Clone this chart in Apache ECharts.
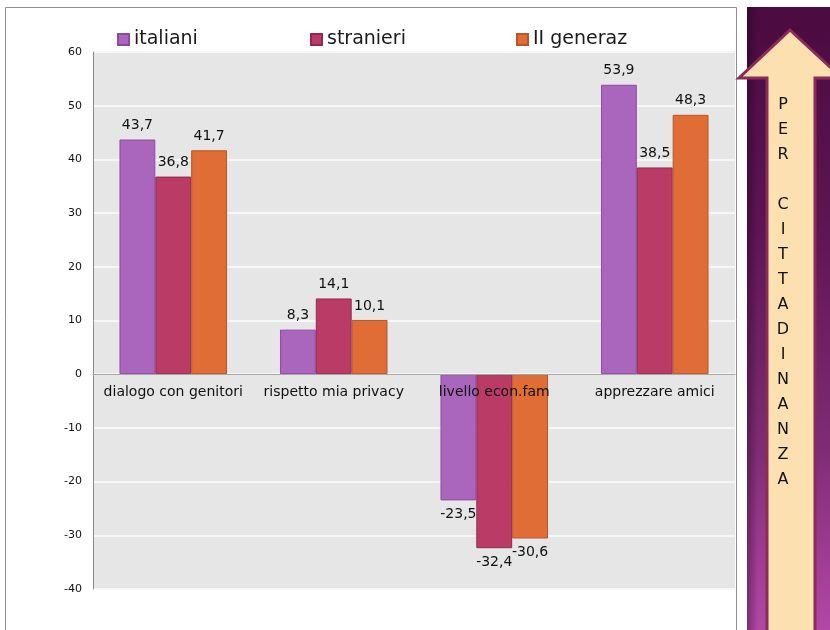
<!DOCTYPE html>
<html>
<head>
<meta charset="utf-8">
<script src="https://cdn.jsdelivr.net/npm/echarts@6/dist/echarts.min.js"></script>
<style>
  html, body { margin: 0; padding: 0; background: #ffffff; }
  #chart { width: 830px; height: 630px; }
</style>
</head>
<body>
<div id="chart"></div>
<script>
// Categories and values (percent differences) per group
const categories = ['dialogo con genitori', 'rispetto mia privacy', 'livello econ.fam', 'apprezzare amici'];
const seriesNames = ['italiani', 'stranieri', 'II generaz'];
const italiani = [43.7, 8.3, -23.5, 53.9];
const stranieri = [36.8, 14.1, -32.4, 38.5];
const secondaGen = [41.7, 10.1, -30.6, 48.3];
const yTicks = { min: -40, max: 60, step: 10 };
const sideText = 'PER CITTADINANZA';

const fills = ['#aa65bd', '#ba3c66', '#e06c36'];
const borders = ['#8d4aa0', '#8f2a4e', '#b9552a'];
const FONT = 'DejaVu Sans';

const GRID = { left: 93, right: 95, top: 52, bottom: 41 };
const plotHeight = 630 - GRID.top - GRID.bottom;
// lift the category axis (line + labels) from the bottom edge up to the value 0
const zeroLift = plotHeight * (0 - yTicks.min) / (yTicks.max - yTicks.min);

function fmt(v) { return String(v).replace('.', ','); }

function makeSeries(name, values, idx) {
  return {
    name: name,
    type: 'bar',
    barGap: '0%',
    barCategoryGap: '33%',
    itemStyle: { color: fills[idx], borderColor: borders[idx], borderWidth: 1 },
    label: {
      show: true,
      fontFamily: FONT,
      fontSize: 14,
      color: '#111',
      distance: 7,
      formatter: p => fmt(p.value)
    },
    data: values.map(v => ({
      value: v,
      label: { position: v < 0 ? 'bottom' : 'top' }
    }))
  };
}

const chart = echarts.init(document.getElementById('chart'), null, { renderer: 'canvas' });

const legendLefts = [112, 305, 511];
const legends = seriesNames.map((n, i) => ({
  data: [n],
  left: legendLefts[i],
  top: 25,
  itemWidth: 11,
  itemHeight: 11,
  itemGap: 6,
  icon: 'rect',
  selectedMode: false,
  textStyle: { fontFamily: FONT, fontSize: 19, color: '#1a1a1a' }
}));

// vertical lettering inside the arrow
const letters = sideText.split('').map(c => c === ' ' ? '' : c).join('\n');

chart.setOption({
  backgroundColor: '#ffffff',
  animation: false,
  legend: legends,
  grid: Object.assign({ show: true, backgroundColor: '#e6e6e6', borderWidth: 0 }, GRID),
  xAxis: {
    type: 'category',
    data: categories,
    z: 10,
    offset: -zeroLift,
    axisLine: { onZero: false, lineStyle: { color: '#a6a6a6', width: 1 } },
    axisTick: { show: false },
    axisLabel: { interval: 0, fontFamily: FONT, fontSize: 14, color: '#111', margin: 11 }
  },
  yAxis: {
    type: 'value',
    min: yTicks.min,
    max: yTicks.max,
    interval: yTicks.step,
    axisLine: { show: true, lineStyle: { color: '#8c8c8c', width: 1 } },
    axisTick: { show: false },
    splitLine: { lineStyle: { color: '#f7f7f7', width: 2 } },
    axisLabel: { fontFamily: FONT, fontSize: 11, color: '#111', margin: 11 }
  },
  series: [
    makeSeries(seriesNames[0], italiani, 0),
    makeSeries(seriesNames[1], stranieri, 1),
    makeSeries(seriesNames[2], secondaGen, 2)
  ],
  graphic: [
    // outer frame of the chart slide
    {
      type: 'rect', z: -10, silent: true,
      shape: { x: 5.5, y: 7.5, width: 731, height: 640 },
      style: { fill: 'none', stroke: '#8f8f8f', lineWidth: 1 }
    },
    // purple side panel
    {
      type: 'rect', z: 0, silent: true,
      shape: { x: 747, y: 7, width: 90, height: 630 },
      style: {
        fill: new echarts.graphic.LinearGradient(0, 0, 0, 1, [
          { offset: 0, color: '#4a0b40' },
          { offset: 0.35, color: '#5e1553' },
          { offset: 0.7, color: '#7f2c74' },
          { offset: 1, color: '#b548a8' }
        ])
      }
    },
    {
      type: 'rect', z: 1, silent: true,
      shape: { x: 747, y: 7, width: 90, height: 630 },
      style: {
        fill: new echarts.graphic.LinearGradient(0, 0, 1, 0, [
          { offset: 0, color: 'rgba(20,0,20,0.35)' },
          { offset: 0.12, color: 'rgba(20,0,20,0.0)' },
          { offset: 1, color: 'rgba(20,0,20,0.0)' }
        ])
      }
    },
    // up arrow
    {
      type: 'polygon', z: 2, silent: true,
      shape: {
        points: [[790, 30], [842, 78], [815, 78], [815, 640], [767, 640], [767, 78], [739, 78]]
      },
      style: { fill: '#fde0b0', stroke: '#8a2c57', lineWidth: 3, lineJoin: 'miter' }
    },
    {
      type: 'text', z: 3, silent: true,
      x: 783, y: 92,
      style: {
        text: letters,
        fontFamily: FONT,
        fontSize: 16,
        lineHeight: 25,
        fill: '#111',
        align: 'center',
        verticalAlign: 'top'
      }
    }
  ]
});
</script>
</body>
</html>
